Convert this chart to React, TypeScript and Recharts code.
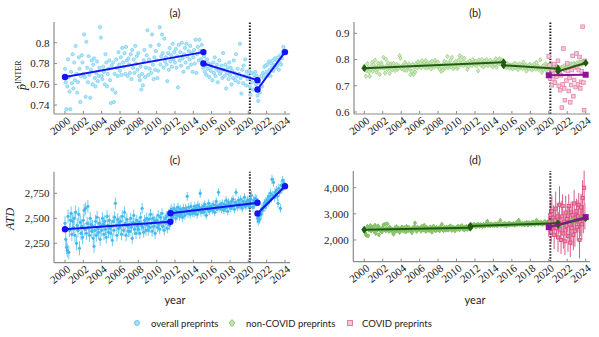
import React from "react";
import { ScatterChart, Scatter, XAxis, YAxis, ErrorBar, ReferenceLine } from "recharts";

// monthly values, Jan 2000 .. Dec 2023
const overallInter = [
  0.775, 0.762, 0.736, 0.758, 0.784, 0.767, 0.753, 0.736, 0.772, 0.761, 0.789, 0.756,
  0.781, 0.764, 0.797, 0.770, 0.752, 0.762, 0.786, 0.775, 0.743, 0.768, 0.788, 0.781,
  0.770, 0.808, 0.767, 0.748, 0.801, 0.776, 0.762, 0.787, 0.769, 0.747, 0.774, 0.783,
  0.760, 0.779, 0.785, 0.766, 0.758, 0.771, 0.782, 0.763, 0.768, 0.776, 0.815, 0.805,
  0.768, 0.765, 0.777, 0.772, 0.760, 0.789, 0.781, 0.758, 0.770, 0.775, 0.783, 0.764,
  0.742, 0.778, 0.755, 0.781, 0.743, 0.770, 0.752, 0.784, 0.776, 0.768, 0.791, 0.779,
  0.773, 0.786, 0.769, 0.795, 0.781, 0.777, 0.790, 0.770, 0.796, 0.783, 0.768, 0.785,
  0.779, 0.771, 0.789, 0.765, 0.793, 0.776, 0.784, 0.771, 0.797, 0.780, 0.787, 0.774,
  0.790, 0.768, 0.764, 0.777, 0.755, 0.770, 0.759, 0.783, 0.793, 0.767, 0.776, 0.788,
  0.812, 0.769, 0.784, 0.775, 0.797, 0.771, 0.808, 0.779, 0.765, 0.786, 0.774, 0.792,
  0.783, 0.766, 0.773, 0.798, 0.815, 0.779, 0.787, 0.808, 0.790, 0.776, 0.804, 0.782,
  0.786, 0.779, 0.763, 0.790, 0.774, 0.795, 0.782, 0.788, 0.777, 0.799, 0.784, 0.791,
  0.781, 0.794, 0.776, 0.787, 0.757, 0.798, 0.783, 0.791, 0.778, 0.800, 0.785, 0.772,
  0.789, 0.795, 0.781, 0.799, 0.787, 0.776, 0.792, 0.784, 0.797, 0.779, 0.790, 0.772,
  0.786, 0.793, 0.780, 0.803, 0.771, 0.789, 0.796, 0.783, 0.803, 0.792, 0.784, 0.798,
  0.781, 0.776, 0.787, 0.772, 0.778, 0.769, 0.784, 0.775, 0.780, 0.767, 0.779, 0.773,
  0.777, 0.764, 0.781, 0.771, 0.786, 0.768, 0.775, 0.779, 0.762, 0.773, 0.783, 0.770,
  0.772, 0.778, 0.766, 0.790, 0.774, 0.768, 0.779, 0.756, 0.771, 0.776, 0.765, 0.781,
  0.769, 0.776, 0.760, 0.773, 0.766, 0.783, 0.771, 0.764, 0.789, 0.768, 0.775, 0.762,
  0.770, 0.799, 0.766, 0.751, 0.774, 0.761, 0.778, 0.768, 0.784, 0.759, 0.772, 0.765,
  0.768, 0.773, 0.758, 0.750, 0.771, 0.762, 0.755, 0.770, 0.766, 0.772, 0.760, 0.768,
  0.749, 0.744, 0.756, 0.752, 0.760, 0.768, 0.758, 0.771, 0.766, 0.777, 0.769, 0.778,
  0.772, 0.779, 0.769, 0.782, 0.774, 0.768, 0.780, 0.776, 0.783, 0.773, 0.779, 0.785,
  0.776, 0.783, 0.778, 0.786, 0.774, 0.781, 0.788, 0.779, 0.785, 0.791, 0.796, 0.793,
];

// non-COVID from Jan 2020 (before that it is the overall series)
const nonCovidInter2020 = [
  0.770, 0.775, 0.766, 0.772, 0.780, 0.768, 0.777, 0.764, 0.773, 0.779, 0.769, 0.774,
  0.758, 0.763, 0.755, 0.768, 0.761, 0.770, 0.766, 0.774, 0.762, 0.777, 0.771, 0.768,
  0.775, 0.770, 0.781, 0.773, 0.778, 0.784, 0.776, 0.782, 0.772, 0.786, 0.779, 0.783,
  0.780, 0.788, 0.777, 0.785, 0.791, 0.783, 0.789, 0.781, 0.794, 0.786, 0.792, 0.788,
];

const covidInter = [
  0.812, 0.778, 0.728, 0.745, 0.702, 0.760, 0.725, 0.783, 0.712, 0.750, 0.735, 0.770,
  0.795, 0.700, 0.755, 0.683, 0.740, 0.617, 0.705, 0.842, 0.690, 0.645, 0.760, 0.720,
  0.785, 0.756, 0.680, 0.730, 0.637, 0.703, 0.760, 0.814, 0.660, 0.722, 0.770, 0.695,
  0.823, 0.772, 0.705, 0.760, 0.810, 0.690, 0.715, 0.755, 0.925, 0.712, 0.607, 0.795,
];

const overallAtd = [
  2450, 2290, 2210, 2180, 2520, 2160, 2380, 2480, 2550, 2340, 2470, 2410,
  2500, 2330, 2560, 2250, 2430, 2380, 2540, 2200, 2460, 2350, 2420, 2310,
  2480, 2580, 2390, 2600, 2350, 2450, 2620, 2410, 2330, 2500, 2440, 2370,
  2420, 2300, 2220, 2380, 2470, 2330, 2510, 2400, 2360, 2450, 2290, 2420,
  2380, 2500, 2440, 2340, 2470, 2390, 2310, 2520, 2430, 2360, 2480, 2400,
  2350, 2420, 2280, 2470, 2380, 2510, 2650, 2430, 2330, 2490, 2400, 2460,
  2410, 2470, 2340, 2520, 2430, 2380, 2560, 2450, 2330, 2490, 2420, 2370,
  2440, 2370, 2500, 2410, 2300, 2460, 2530, 2390, 2450, 2350, 2480, 2420,
  2390, 2460, 2350, 2510, 2430, 2600, 2410, 2360, 2480, 2440, 2380, 2500,
  2430, 2380, 2490, 2410, 2540, 2450, 2370, 2500, 2420, 2470, 2350, 2460,
  2480, 2410, 2530, 2440, 2390, 2510, 2460, 2550, 2420, 2470, 2380, 2500,
  2450, 2520, 2400, 2470, 2540, 2430, 2560, 2590, 2510, 2570, 2530, 2600,
  2550, 2500, 2580, 2530, 2610, 2560, 2520, 2590, 2540, 2570, 2510, 2600,
  2560, 2530, 2600, 2580, 2720, 2550, 2610, 2570, 2540, 2620, 2580, 2560,
  2590, 2550, 2620, 2570, 2600, 2540, 2630, 2580, 2610, 2750, 2560, 2600,
  2580, 2620, 2560, 2640, 2600, 2530, 2610, 2590, 2650, 2570, 2620, 2600,
  2610, 2580, 2640, 2600, 2560, 2630, 2670, 2590, 2620, 2760, 2600, 2640,
  2620, 2590, 2650, 2610, 2580, 2640, 2600, 2680, 2630, 2570, 2660, 2620,
  2640, 2600, 2670, 2620, 2690, 2630, 2590, 2660, 2760, 2640, 2610, 2680,
  2650, 2620, 2690, 2630, 2600, 2670, 2640, 2710, 2620, 2660, 2630, 2680,
  2640, 2670, 2620, 2690, 2730, 2650, 2610, 2680, 2640, 2700, 2660, 2690,
  2500, 2470, 2520, 2490, 2560, 2540, 2600, 2580, 2620, 2650, 2610, 2670,
  2640, 2690, 2660, 2720, 2680, 2750, 2700, 2890, 2730, 2860, 2710, 2760,
  2740, 2780, 2720, 2650, 2800, 2760, 2600, 2830, 2790, 2880, 2820, 2850,
];
const atdErrByYear = [70, 70, 65, 65, 60, 60, 60, 55, 55, 55, 50, 50, 45, 45, 45, 40, 40, 40, 40, 40, 45, 45, 45, 45];

const nonCovidAtd2020 = [
  2630, 2680, 2610, 2700, 2650, 2620, 2690, 2640, 2670, 2610, 2700, 2660,
  2550, 2590, 2530, 2610, 2580, 2640, 2600, 2650, 2620, 2680, 2640, 2690,
  2660, 2710, 2680, 2740, 2700, 2760, 2720, 2790, 2740, 2800, 2750, 2780,
  2760, 2800, 2740, 2820, 2790, 2850, 2780, 2840, 2810, 2870, 2830, 2860,
];

const covidAtd = [
  2500, 2700, 2950, 2300, 3100, 2600, 2850, 2200, 2750, 3200, 2450, 2900,
  2100, 2650, 3350, 2400, 2000, 2900, 3300, 2250, 2700, 1950, 3050, 2550,
  2800, 2150, 3300, 2600, 1900, 3050, 2450, 2950, 2200, 3400, 2350, 2750,
  3100, 2500, 2900, 3350, 2000, 2700, 3250, 2600, 3600, 2800, 4000, 2900,
];
const covidAtdErr = [
  380, 450, 520, 400, 600, 350, 480, 550, 420, 650, 390, 500,
  560, 420, 700, 480, 530, 610, 450, 580, 400, 520, 640, 470,
  500, 600, 450, 700, 550, 420, 660, 480, 590, 520, 610, 440,
  480, 530, 620, 450, 700, 560, 510, 600, 680, 540, 650, 500,
];

// piecewise fits: [x0, y0, x1, y1]
const fitInterOverall = [[2000, 0.767, 2015.1, 0.791], [2015.1, 0.780, 2021, 0.764], [2021, 0.755, 2024, 0.791]];
const fitInterNonCovid = [[2000, 0.767, 2015.1, 0.790], [2015.1, 0.778, 2021, 0.765], [2021, 0.755, 2024, 0.787]];
const fitInterCovid = [[2020, 0.740, 2024, 0.742]];
const fitAtdOverall = [[2000, 2390, 2011.5, 2465], [2011.5, 2550, 2021, 2655], [2021, 2548, 2024, 2820]];
const fitAtdNonCovid = [[2000, 2390, 2011.5, 2470], [2011.5, 2540, 2021, 2645], [2021, 2575, 2024, 2835]];
const fitAtdCovid = [[2020, 2490, 2024, 2875]];

const xTicks = [2000, 2002, 2004, 2006, 2008, 2010, 2012, 2014, 2016, 2018, 2020, 2022, 2024];
const covidOnset = 2020.17;

const monthly = (vals: number[], start: number, err?: (i: number) => number) =>
  vals.map((y, i) => ({ x: start + i / 12, y, e: err ? err(i) : 0 }));
const seg = (s: number[]) => [{ x: s[0], y: s[1] }, { x: s[2], y: s[3] }];

const aPts = monthly(overallInter, 2000);
const bNonCovid = monthly([...overallInter.slice(0, 240), ...nonCovidInter2020], 2000);
const bCovid = monthly(covidInter, 2020);
const cPts = monthly(overallAtd, 2000, (i) => atdErrByYear[Math.floor(i / 12)]);
const dNonCovid = monthly([...overallAtd.slice(0, 240), ...nonCovidAtd2020], 2000, (i) => atdErrByYear[Math.floor(i / 12)]);
const dCovid = monthly(covidAtd, 2020, (i) => covidAtdErr[i]);

const SERIF = "'Liberation Serif', 'DejaVu Serif', serif";
const SANS = "Lato, 'Open Sans', sans-serif";
const BLUE = "#1414f5";
const DKGREEN = "#1f5c12";
const PURPLE = "#8a1496";
const AXIS = "#8a8a8a";

const circle = (fill: string, r: number, stroke?: string) => (p: any) =>
  <circle cx={p.cx} cy={p.cy} r={r} fill={fill} stroke={stroke || "none"} strokeWidth={0.8} />;
const diamond = (fill: string, s: number, stroke?: string) => (p: any) =>
  <polygon points={`${p.cx},${p.cy - s * 1.3} ${p.cx + s},${p.cy} ${p.cx},${p.cy + s * 1.3} ${p.cx - s},${p.cy}`}
    fill={fill} stroke={stroke || "none"} strokeWidth={0.8} />;
const square = (fill: string, s: number, stroke?: string) => (p: any) =>
  <rect x={p.cx - s} y={p.cy - s} width={2 * s} height={2 * s} fill={fill} stroke={stroke || "none"} strokeWidth={0.8} />;

function XTick({ x, y, payload }: any) {
  const ax = x + 6;
  const ay = y + 8;
  return (
    <text x={ax} y={ay} textAnchor="end" transform={`rotate(-38 ${ax} ${ay})`}
      fontSize={11} fontFamily={SERIF} fill="#222">{payload.value}</text>
  );
}

const xAxisProps = {
  type: "number" as const, dataKey: "x", ticks: xTicks, allowDataOverflow: true, height: 20,
  tick: <XTick />, tickSize: -3, tickMargin: 3, interval: 0 as const,
  axisLine: { stroke: AXIS, strokeWidth: 1.2 }, tickLine: { stroke: AXIS },
};
const yAxisProps = {
  type: "number" as const, dataKey: "y", allowDataOverflow: true, tickSize: -3, tickMargin: 7.5, interval: 0 as const,
  tick: { fontSize: 11, fontFamily: SERIF, fill: "#222" },
  axisLine: { stroke: AXIS, strokeWidth: 1.2 }, tickLine: { stroke: AXIS },
};

const fmtDec = (v: number) => String(Number(v.toFixed(2)));
const fmtK = (v: number) => v.toLocaleString("en-US");

export default function App() {
  return (
    <div style={{ position: "absolute", left: 0, top: 0, width: 599, height: 337, overflow: "hidden", background: "#fff" }}>
      {/* (a) */}
      <div style={{ position: "absolute", left: 0, top: 0 }}>
        <ScatterChart width={300} height={140} margin={{ top: 22, right: 10, bottom: 6, left: 0 }}>
          <XAxis {...xAxisProps} domain={[1998.8, 2024.55]} />
          <YAxis {...yAxisProps} width={54} domain={[0.7314, 0.82]} ticks={[0.74, 0.76, 0.78, 0.8]} tickFormatter={fmtDec} />
          <Scatter data={aPts} shape={circle("#b4e5f9", 1.6, "#7ad0f4")} isAnimationActive={false} />
          <ReferenceLine x={covidOnset} stroke="#222" strokeWidth={2} strokeDasharray="1.5 1.5" />
          {fitInterOverall.map((s, i) => (
            <Scatter key={i} data={seg(s)} line={{ stroke: BLUE, strokeWidth: 2 }} shape={circle(BLUE, 3.2)} isAnimationActive={false} />
          ))}
        </ScatterChart>
      </div>
      {/* (b) */}
      <div style={{ position: "absolute", left: 300, top: 0 }}>
        <ScatterChart width={299} height={140} margin={{ top: 22, right: 9, bottom: 6, left: 0 }}>
          <XAxis {...xAxisProps} domain={[1998.88, 2024.47]} />
          <YAxis {...yAxisProps} width={54} domain={[0.5924, 0.943]} ticks={[0.6, 0.7, 0.8, 0.9]} tickFormatter={fmtDec} />
          <Scatter data={bNonCovid} shape={diamond("#cfe9c0", 1.7, "#9ccf82")} isAnimationActive={false} />
          <Scatter data={bCovid} shape={square("#f6c8d8", 1.8, "#e386a8")} isAnimationActive={false} />
          <ReferenceLine x={covidOnset} stroke="#222" strokeWidth={2} strokeDasharray="1.5 1.5" />
          {fitInterNonCovid.map((s, i) => (
            <Scatter key={i} data={seg(s)} line={{ stroke: DKGREEN, strokeWidth: 2 }} shape={diamond(DKGREEN, 3)} isAnimationActive={false} />
          ))}
          {fitInterCovid.map((s, i) => (
            <Scatter key={"c" + i} data={seg(s)} line={{ stroke: PURPLE, strokeWidth: 2 }} shape={square(PURPLE, 3)} isAnimationActive={false} />
          ))}
        </ScatterChart>
      </div>
      {/* (c) */}
      <div style={{ position: "absolute", left: 0, top: 140 }}>
        <ScatterChart width={300} height={160} margin={{ top: 31.7, right: 10, bottom: 17.3, left: 0 }}>
          <XAxis {...xAxisProps} domain={[1998.8, 2024.55]} />
          <YAxis {...yAxisProps} width={54} domain={[2056, 2966]} ticks={[2250, 2500, 2750]} tickFormatter={fmtK} />
          <Scatter data={cPts} shape={circle("#45b9ee", 1.6)} isAnimationActive={false}>
            <ErrorBar dataKey="e" direction="y" width={0} stroke="#6ccaf3" strokeWidth={1} />
          </Scatter>
          <ReferenceLine x={covidOnset} stroke="#222" strokeWidth={2} strokeDasharray="1.5 1.5" />
          {fitAtdOverall.map((s, i) => (
            <Scatter key={i} data={seg(s)} line={{ stroke: BLUE, strokeWidth: 2 }} shape={circle(BLUE, 3.2)} isAnimationActive={false} />
          ))}
        </ScatterChart>
      </div>
      {/* (d) */}
      <div style={{ position: "absolute", left: 300, top: 140 }}>
        <ScatterChart width={299} height={160} margin={{ top: 31, right: 9, bottom: 18.3, left: 0 }}>
          <XAxis {...xAxisProps} domain={[1998.81, 2024.47]} />
          <YAxis {...yAxisProps} width={53.3} domain={[1170, 4639]} ticks={[2000, 3000, 4000]} tickFormatter={fmtK} />
          <Scatter data={dNonCovid} shape={diamond("#8dc86f", 1.6, "#79bd58")} isAnimationActive={false}>
            <ErrorBar dataKey="e" direction="y" width={0} stroke="#86c466" strokeWidth={1} />
          </Scatter>
          <Scatter data={dCovid} shape={square("#ea8fb0", 1.6, "#d9487c")} isAnimationActive={false}>
            <ErrorBar dataKey="e" direction="y" width={0} stroke="#db5a88" strokeWidth={1} />
          </Scatter>
          <ReferenceLine x={covidOnset} stroke="#222" strokeWidth={2} strokeDasharray="1.5 1.5" />
          {fitAtdNonCovid.map((s, i) => (
            <Scatter key={i} data={seg(s)} line={{ stroke: DKGREEN, strokeWidth: 2 }} shape={diamond(DKGREEN, 3)} isAnimationActive={false} />
          ))}
          {fitAtdCovid.map((s, i) => (
            <Scatter key={"c" + i} data={seg(s)} line={{ stroke: PURPLE, strokeWidth: 2 }} shape={square(PURPLE, 3)} isAnimationActive={false} />
          ))}
        </ScatterChart>
      </div>
      {/* titles, axis labels, legend */}
      <svg width={599} height={337} style={{ position: "absolute", left: 0, top: 0, pointerEvents: "none" }}>
        <g fontFamily={SANS} fontSize={11} fill="#222" textAnchor="middle">
          <text x={175} y={16.5}>(a)</text>
          <text x={475} y={16.5}>(b)</text>
          <text x={175} y={164}>(c)</text>
          <text x={475} y={164}>(d)</text>
          <text x={175} y={304}>year</text>
          <text x={475} y={304}>year</text>
        </g>
        <text transform="translate(26,90) rotate(-90)" fontFamily={SERIF} fontSize={12} fill="#222">
          <tspan fontStyle="italic">{"p\u0302"}</tspan>
          <tspan dy={-5} fontSize={8}>INTER</tspan>
        </text>
        <text transform="translate(14,219) rotate(-90)" textAnchor="middle" fontFamily={SERIF} fontStyle="italic" fontSize={12} fill="#222">ATD</text>
        <g fontFamily={SANS} fontSize={9.5} fill="#222">
          <circle cx={137} cy={323} r={2.4} fill="#a9e1f8" stroke="#5cc3f1" strokeWidth={1} />
          <text x={151} y={326.5}>overall preprints</text>
          <polygon points="232,319.5 234.8,323 232,326.5 229.2,323" fill="#c4e4b2" stroke="#86c466" strokeWidth={1} />
          <text x={246} y={326.5}>non-COVID preprints</text>
          <rect x={347.5} y={320.5} width={5} height={5} fill="#f6c4d6" stroke="#e07fa3" strokeWidth={1} />
          <text x={362} y={326.5}>COVID preprints</text>
        </g>
      </svg>
    </div>
  );
}
